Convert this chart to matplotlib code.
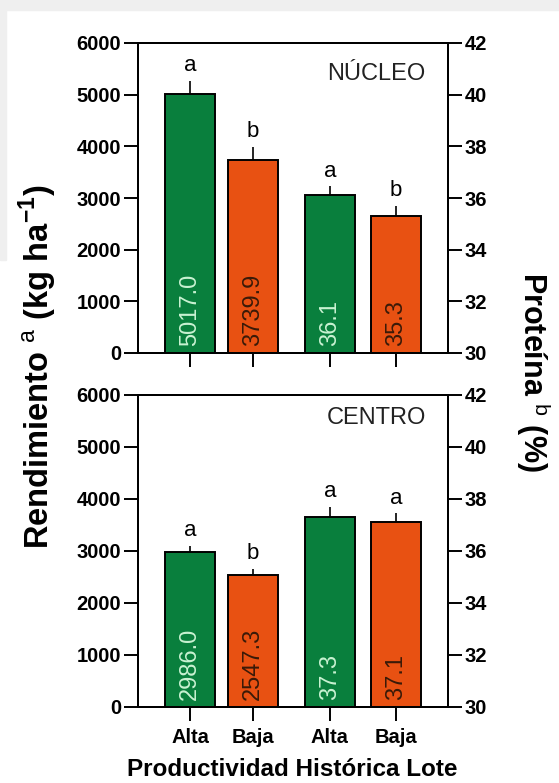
import numpy as np
import matplotlib.pyplot as plt
from matplotlib.patches import Rectangle

plt.rcParams['font.family'] = ['Liberation Sans', 'DejaVu Sans']
plt.rcParams['mathtext.fontset'] = 'custom'
plt.rcParams['mathtext.rm'] = 'Liberation Sans'
plt.rcParams['mathtext.bf'] = 'Liberation Sans:bold'

categories = ['Alta', 'Baja', 'Alta', 'Baja']
positions = [0.0, 0.99, 2.2, 3.24]

# rendimiento (kg/ha) and proteina (%)
nucleo_rend = [5017.0, 3739.9]
nucleo_rend_err = [250, 250]
nucleo_prot = [36.1, 35.3]
nucleo_prot_err = [0.35, 0.4]
nucleo_letters = ['a', 'b', 'a', 'b']

centro_rend = [2986.0, 2547.3]
centro_rend_err = [110, 110]
centro_prot = [37.3, 37.1]
centro_prot_err = [0.4, 0.35]
centro_letters = ['a', 'b', 'a', 'a']

green = '#097f3d'
orange = '#e85112'
colors = [green, orange, green, orange]
txtcolors = ['#c9f2d2', '#3a1a08', '#c9f2d2', '#3a1a08']

W, H = 559, 783
fig = plt.figure(figsize=(W / 100, H / 100), dpi=100, facecolor='white')
fig.patches.append(Rectangle((0, 1 - 10 / H), 1, 10 / H, transform=fig.transFigure,
                             color='#efefef', zorder=0))
fig.patches.append(Rectangle((0, 1 - 260 / H), 6 / W, 260 / H, transform=fig.transFigure,
                             color='#efefef', zorder=0))


def panel(top, bottom, rend, rend_err, prot, prot_err, letters, name, name_y, show_x):
    ax = fig.add_axes([138 / W, 1 - bottom / H, (448 - 138) / W, (bottom - top) / H])
    ax2 = ax.twinx()
    ax.set_ylim(0, 6000)
    ax2.set_ylim(30, 42)
    ax.set_xlim(-0.82, 4.06)
    w = 0.79
    vals = [rend[0], rend[1], prot[0], prot[1]]
    errs = [rend_err[0], rend_err[1], prot_err[0], prot_err[1]]
    for i in range(4):
        a = ax if i < 2 else ax2
        base = 0 if i < 2 else 30
        span = 6000 if i < 2 else 12
        a.bar(positions[i], vals[i] - base, width=w, bottom=base, color=colors[i],
              edgecolor='black', linewidth=1.4, zorder=2)
        a.errorbar(positions[i], vals[i], yerr=[[0], [errs[i]]], color='black',
                   linewidth=1.2, capsize=0, zorder=3)
        a.text(positions[i], vals[i] + errs[i] + span * 0.015, letters[i],
               ha='center', va='bottom', fontsize=16, zorder=4)
        a.text(positions[i], base + span * 0.022, '%.1f' % vals[i], rotation=90,
               ha='center', va='bottom', fontsize=17, color=txtcolors[i], zorder=4)
    ax.set_yticks(range(0, 6001, 1000))
    ax2.set_yticks(range(30, 43, 2))
    ax.set_xticks(positions)
    if show_x:
        ax.set_xticklabels(categories, fontsize=15.5, fontweight='bold')
    else:
        ax.set_xticklabels([])
    for a in (ax, ax2):
        for s in a.spines.values():
            s.set_linewidth(1.4)
        a.tick_params(direction='out', length=10, width=1.4, labelsize=14.5, pad=2)
        for lab in a.get_yticklabels():
            lab.set_fontweight('bold')
    ax.tick_params(axis='x', length=10, width=1.4, pad=5)
    ax.text(0.768, name_y, name, transform=ax.transAxes, ha='center', va='center',
            fontsize=17, color='#222222')
    return ax


panel(43, 353, nucleo_rend, nucleo_rend_err, nucleo_prot, nucleo_prot_err,
      nucleo_letters, 'NÚCLEO', 0.9, False)
panel(395, 707, centro_rend, centro_rend_err, centro_prot, centro_prot_err,
      centro_letters, 'CENTRO', 0.926, True)

fig.text(38 / W, 1 - 367 / H, 'Rendimiento $^{\\mathrm{a}}$ (kg ha$^{\\mathbf{-1}}$)',
         rotation=90, ha='center', va='center', fontsize=23.5, fontweight='bold')
fig.text(533 / W, 1 - 372 / H, 'Proteína $^{\\mathrm{b}}$ (%)', rotation=-90,
         ha='center', va='center', fontsize=22, fontweight='bold')
fig.text(292 / W, 1 - 769 / H, 'Productividad Histórica Lote', ha='center',
         va='center', fontsize=17.5, fontweight='bold')

fig.savefig('out.png', dpi=100, facecolor=fig.get_facecolor())
